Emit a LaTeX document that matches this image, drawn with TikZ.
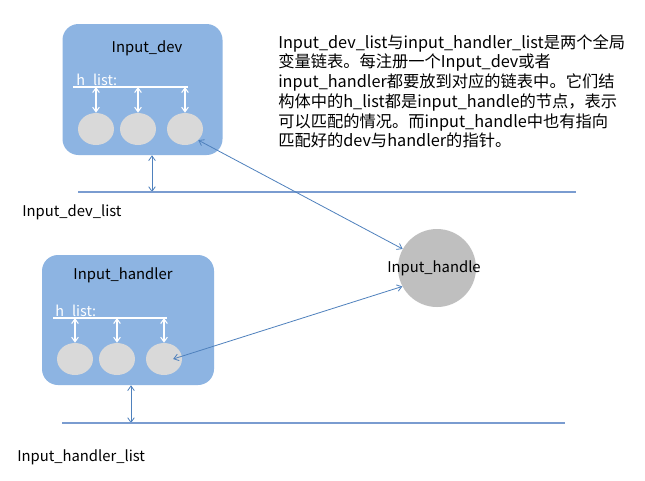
\documentclass[tikz,border=0pt]{standalone}
\usepackage{fontspec}
\setmainfont{Noto Sans CJK SC}
\usetikzlibrary{arrows.meta,shapes.geometric,calc}
\definecolor{boxblue}{HTML}{8DB4E2}
\definecolor{ellgray}{HTML}{D9D9D9}
\definecolor{handlegray}{HTML}{BFBFBF}
\definecolor{lineblue}{HTML}{4F81BD}
\definecolor{hlineblue}{HTML}{7A9CD0}
\begin{document}
\begin{tikzpicture}[x=0.75pt,y=-0.75pt,
  box/.style={draw=none,fill=boxblue,rounded corners=12pt,inner sep=0pt},
  ell/.style={ellipse,fill=ellgray,minimum width=27pt,minimum height=24pt,inner sep=0pt},
  lbl/.style={font=\fontsize{11.1}{13}\selectfont,text=black,inner sep=0pt},
  hl/.style={font=\fontsize{10.8}{13}\selectfont,text=white,inner sep=0pt,anchor=base west},
  wline/.style={draw=white,line width=0.8pt},
  warr/.style={draw=white,line width=0.8pt,{Straight Barb[length=3.5pt,width=5pt]}-{Straight Barb[length=3.5pt,width=5pt]}},
  barr/.style={draw=lineblue,line width=0.6pt,{Straight Barb[length=3.5pt,width=5pt]}-{Straight Barb[length=3.5pt,width=5pt]}},
  bline/.style={draw=hlineblue,line width=0.9pt},
  para/.style={font=\fontsize{12.2}{14.8}\selectfont,text=black,inner sep=0pt,align=left,anchor=north west}]
\useasboundingbox (0,0) rectangle (645,480);
\fill[white] (0,0) rectangle (645,480);

% ---------- Input_dev ----------
\node[box,minimum width=120pt,minimum height=98.25pt] (devbox) at (142.5,89.5) {};
\node[lbl] (devlbl) at (147,48) {Input\_dev};
\node[hl] (devhl) at (76,85) {h\_list:};
\coordinate (dhA) at (73,87);
\coordinate (dhB) at (188,87);
\draw[wline] (dhA) -- (dhB);
\node[ell] (e11) at (96,129) {};
\node[ell] (e12) at (138,129) {};
\node[ell] (e13) at (185,129) {};
\draw[warr] (e11.north |- dhA) -- (e11.north);
\draw[warr] (e12.north |- dhA) -- (e12.north);
\draw[warr] (e13.north |- dhA) -- (e13.north);
\coordinate (dl) at (152,192);
\draw[barr] (devbox.south -| dl) -- (dl);
\coordinate (dlA) at (78,192);
\coordinate (dlB) at (576,192);
\draw[bline] (dlA) -- (dlB);
\node[lbl,anchor=west] (devlist) at (22,212) {Input\_dev\_list};

% ---------- Input_handler ----------
\node[box,minimum width=129pt,minimum height=97.5pt] (hdbox) at (128,320) {};
\node[lbl] (hdlbl) at (123,275) {Input\_handler};
\node[hl] (hdhl) at (55,316) {h\_list:};
\coordinate (hhA) at (53,318);
\coordinate (hhB) at (167,318);
\draw[wline] (hhA) -- (hhB);
\node[ell] (e21) at (75,359) {};
\node[ell] (e22) at (117,359) {};
\node[ell] (e23) at (164,359) {};
\draw[warr] (e21.north |- hhA) -- (e21.north);
\draw[warr] (e22.north |- hhA) -- (e22.north);
\draw[warr] (e23.north |- hhA) -- (e23.north);
\coordinate (hl) at (131,423);
\draw[barr] (hdbox.south -| hl) -- (hl);
\coordinate (hlA) at (62,423);
\coordinate (hlB) at (565,423);
\draw[bline] (hlA) -- (hlB);
\node[lbl,anchor=west] (hdlist) at (17,457) {Input\_handler\_list};

% ---------- Input_handle ----------
\node[circle,fill=handlegray,minimum size=58.5pt,inner sep=0pt] (handle) at (437,268) {};
\node[lbl] (handlelbl) at (434,268) {Input\_handle};

\draw[barr] (e13.-40) -- (handle.151);
\draw[barr] ($(e23.center)!0.5!(e23.east)$) -- (handle.208);

% ---------- description ----------
\node[para] (desc) at (278,34) {Input\_dev\_list与input\_handler\_list是两个全局\\
变量链表。每注册一个Input\_dev或者\\
input\_handler都要放到对应的链表中。它们结\\
构体中的h\_list都是input\_handle的节点，表示\\
可以匹配的情况。而input\_handle中也有指向\\
匹配好的dev与handler的指针。};
\end{tikzpicture}
\end{document}
